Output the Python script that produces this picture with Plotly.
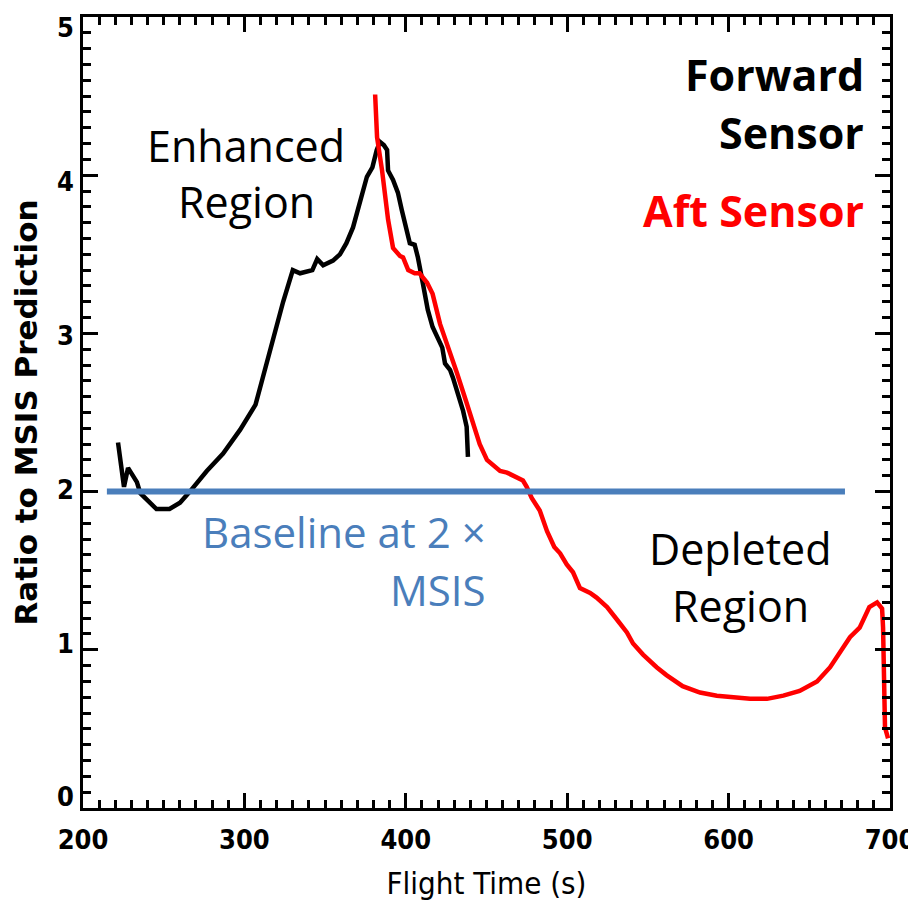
import plotly.graph_objects as go

# Forward sensor (black)
fwd_t = [221.7, 225.4, 227.9, 233.4, 235.5, 238.5, 245.5, 253.6, 260.1, 266.2, 276.7, 286.8,
         297.3, 306.9, 317.8, 324.0, 330.0, 334.5, 342.1, 345.1, 348.8, 354.9, 359.2, 363.2,
         367.3, 371.3, 373.3, 375.9, 379.3, 382.0, 384.0, 386.4, 388.4, 389.0, 392.1, 395.1,
         397.5, 400.5, 402.5, 405.5, 407.5, 410.5, 413.6, 416.6, 419.6, 422.6, 424.3, 427.4,
         429.2, 432.4, 435.5, 437.7, 438.5]
fwd_r = [2.31, 2.03, 2.15, 2.06, 1.99, 1.96, 1.89, 1.89, 1.93, 2.00, 2.13, 2.24,
         2.39, 2.55, 2.97, 3.20, 3.40, 3.38, 3.40, 3.47, 3.43, 3.46, 3.50, 3.57,
         3.67, 3.82, 3.89, 3.99, 4.05, 4.16, 4.21, 4.19, 4.16, 4.03, 3.97, 3.89,
         3.78, 3.65, 3.57, 3.56, 3.48, 3.32, 3.15, 3.04, 2.97, 2.91, 2.81, 2.77,
         2.72, 2.62, 2.51, 2.41, 2.22]

# Aft sensor (red)
aft_t = [381.0, 382.2, 385.3, 387.1, 389.0, 392.1, 396.4, 398.3, 401.5, 405.5, 408.5, 413.2,
         416.6, 421.2, 425.5, 431.7, 437.7, 442.7, 445.8, 450.3, 458.4, 462.7, 468.9, 472.6,
         474.9, 478.0, 483.0, 487.5, 492.0, 495.6, 499.7, 503.6, 507.9, 514.2, 518.2, 524.7,
         530.9, 537.0, 540.8, 547.0, 555.4, 561.5, 571.5, 582.3, 592.7, 602.7, 613.3, 623.8,
         633.9, 644.0, 654.8, 662.9, 669.1, 675.2, 681.2, 684.2, 687.2, 692.0, 695.1, 695.7,
         696.3, 696.3, 696.9, 698.8]
aft_r = [4.51, 4.24, 4.03, 3.86, 3.72, 3.54, 3.49, 3.48, 3.40, 3.38, 3.38, 3.32,
         3.25, 3.06, 2.94, 2.75, 2.56, 2.39, 2.30, 2.20, 2.13, 2.12, 2.09, 2.07,
         2.03, 1.96, 1.88, 1.75, 1.65, 1.61, 1.54, 1.49, 1.39, 1.36, 1.33, 1.27,
         1.19, 1.11, 1.04, 0.97, 0.89, 0.84, 0.77, 0.73, 0.71, 0.70, 0.69, 0.69,
         0.71, 0.74, 0.80, 0.89, 0.99, 1.08, 1.14, 1.20, 1.27, 1.30, 1.26, 1.14,
         0.93, 0.82, 0.51, 0.44]

# Baseline at 2 x MSIS
base_t = [214.8, 672.1]
base_r = [2.0, 2.0]

x_ticks = [200, 300, 400, 500, 600, 700]
y_ticks = [0, 1, 2, 3, 4, 5]

fig = go.Figure()
fig.add_trace(go.Scatter(x=fwd_t, y=fwd_r, mode="lines",
                         line=dict(color="black", width=4.5), showlegend=False))
fig.add_trace(go.Scatter(x=aft_t, y=aft_r, mode="lines",
                         line=dict(color="#ff0000", width=4.5), showlegend=False))
fig.add_trace(go.Scatter(x=base_t, y=base_r, mode="lines",
                         line=dict(color="#4a7ebb", width=6), showlegend=False))
# empty trace that only attaches the label axis (y2)
fig.add_trace(go.Scatter(x=[], y=[], yaxis="y2", showlegend=False, hoverinfo="skip"))

COND = "DejaVu Sans Condensed, DejaVu Sans, sans-serif"
tickfont = dict(family=COND, size=27, color="black", weight="bold")
axis_common = dict(showgrid=False, zeroline=False, showline=True, linecolor="black", linewidth=3,
                   mirror="ticks", ticks="inside", ticklen=15, tickwidth=3, tickcolor="black")

fig.update_layout(
    xaxis=dict(range=[200, 700], tickvals=x_ticks, ticktext=[str(v) for v in x_ticks],
               tickfont=tickfont, ticklabelstandoff=6, ticklabeloverflow="allow",
               minor=dict(dtick=10, ticks="inside", ticklen=8, tickwidth=3, tickcolor="black"),
               title=dict(text="Flight Time (s)", standoff=18,
                          font=dict(family=COND, size=31, color="black")),
               **axis_common),
    yaxis=dict(range=[0, 5], tickvals=y_ticks, showticklabels=False,
               minor=dict(dtick=0.1, ticks="inside", ticklen=8, tickwidth=3, tickcolor="black"),
               **axis_common),
    yaxis2=dict(overlaying="y", side="left", anchor="x", range=[-0.0715, 5.0715],
                tickvals=y_ticks, ticktext=[str(v) for v in y_ticks], ticks="",
                showgrid=False, zeroline=False, showline=False,
                tickfont=tickfont, ticklabelstandoff=8, ticklabeloverflow="allow",
                title=dict(text="Ratio to MSIS Prediction", standoff=18,
                           font=dict(family="DejaVu Sans, sans-serif", size=31, color="black",
                                     weight="bold"))),
)

ann_font = "Open Sans, Noto Sans, sans-serif"

# plot area in page pixels (the page body has an 8px margin)
PL, PT, PW, PH = 83.0, 17.0, 807.0, 791.0
def px(xp):
    return (xp - PL) / PW
def py(yp):
    return 1 - (yp - PT) / PH

def txt(text, x, y, size, color="black", xanchor="center", bold=False):
    fig.add_annotation(text=("<b>%s</b>" % text) if bold else text, xref="paper", yref="paper",
                       x=px(x), y=py(y), xanchor=xanchor, yanchor="middle", showarrow=False,
                       font=dict(family=ann_font, size=size, color=color))

txt("Enhanced", 246, 145, 43)
txt("Region", 246, 201, 43)
txt("Forward", 866, 74, 43, xanchor="right", bold=True)
txt("Sensor", 866, 133, 43, xanchor="right", bold=True)
txt("Aft Sensor", 866, 210, 43, color="#ff0000", xanchor="right", bold=True)
txt("Baseline at 2 ×", 488, 531, 42, color="#4a7ebb", xanchor="right")
txt("MSIS", 488, 589, 42, color="#4a7ebb", xanchor="right")
txt("Depleted", 740, 548, 43)
txt("Region", 740, 605, 43)

# figure is placed at (8, 8) in the page
fig.update_layout(width=908, height=893, margin=dict(l=75, r=26, t=9, b=93, autoexpand=False),
                  plot_bgcolor="white", paper_bgcolor="white", showlegend=False)

fig.write_html("out.html")
